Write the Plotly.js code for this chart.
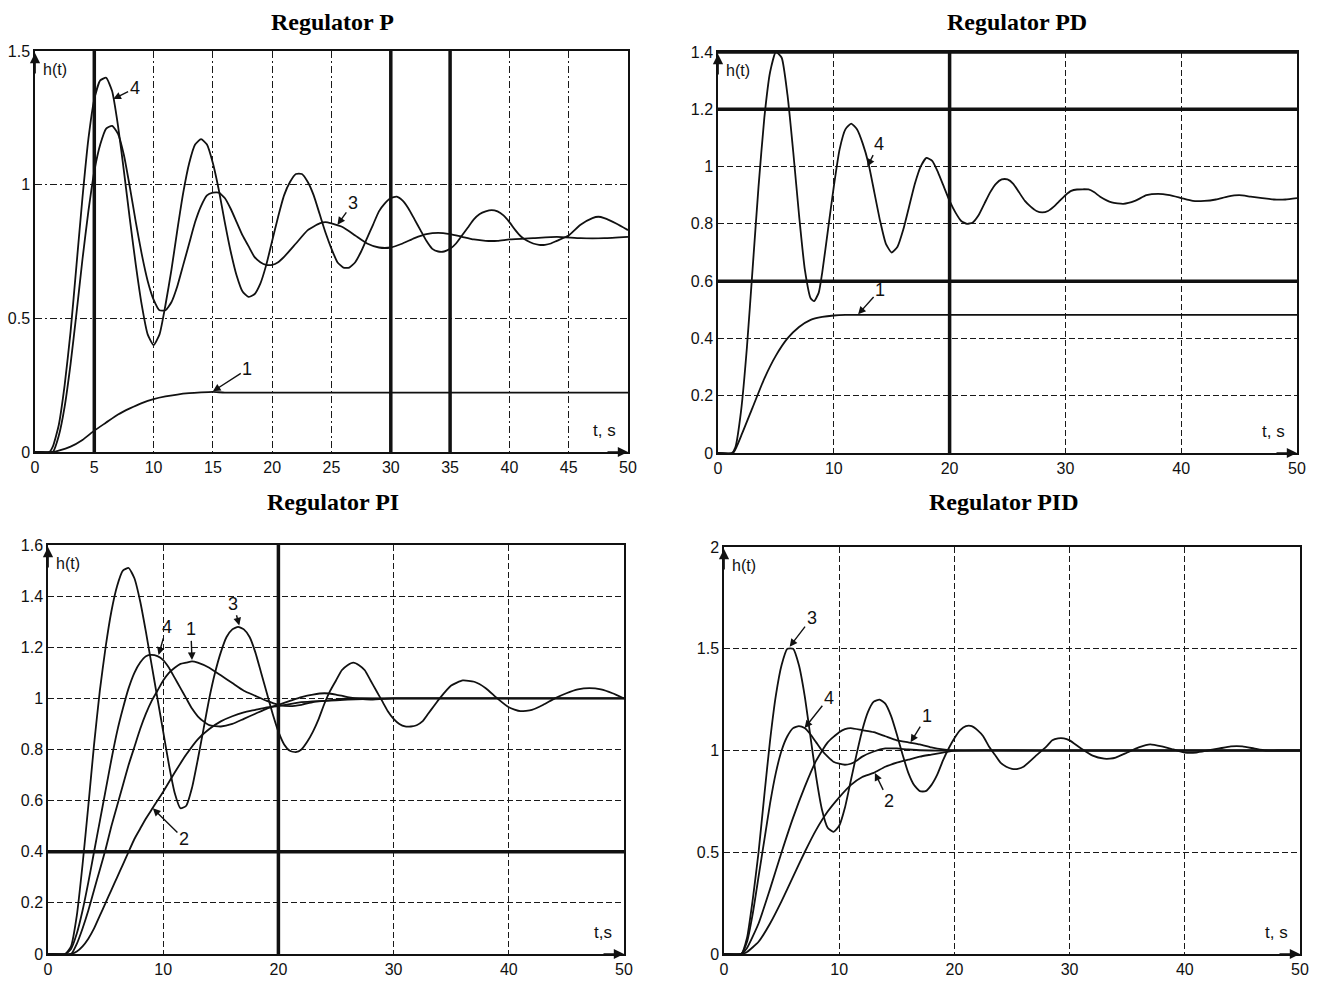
<!DOCTYPE html>
<html>
<head>
<meta charset="utf-8">
<script src="https://cdn.plot.ly/plotly-3.0.1.min.js"></script>
<style>html,body{margin:0;padding:0;background:#fff}#chart{width:1320px;height:981px}</style>
</head>
<body>
<div id="chart"></div>
<script>
// ---------- Regulator P ----------
const tP1 = [0,1.5,2,3,4,5,6,7,8,9,10,11,12,13,14,15,16,20,30,40,50];
const hP1 = [0,0,0.005,0.02,0.045,0.08,0.11,0.14,0.163,0.183,0.198,0.208,0.215,0.22,0.223,0.225,0.222,0.222,0.222,0.222,0.222];
const tP3 = [0,1.5,2,2.5,3,3.5,4,4.5,5,5.5,6,6.5,7,7.5,8,8.5,9,9.5,10,10.5,11,11.5,12,12.5,13,13.5,14,14.5,15,15.5,16,16.5,17,17.5,18,18.5,19,19.5,20,20.5,21,22,23,24,24.5,25,26,27,28,29,30,31,32,33,34,35,36,37,38,39,40,42,44,46,48,50];
const hP3 = [0,0,0.06,0.17,0.33,0.52,0.72,0.9,1.05,1.15,1.21,1.22,1.19,1.11,0.99,0.86,0.74,0.64,0.57,0.53,0.53,0.56,0.62,0.7,0.78,0.86,0.92,0.96,0.97,0.97,0.95,0.91,0.86,0.81,0.77,0.73,0.71,0.70,0.70,0.71,0.73,0.78,0.83,0.855,0.86,0.855,0.84,0.81,0.78,0.765,0.765,0.78,0.80,0.815,0.82,0.815,0.805,0.795,0.79,0.79,0.795,0.80,0.805,0.80,0.80,0.805];
const tP4 = [0,1.2,1.5,2,2.5,3,3.5,4,4.5,5,5.5,6,6.5,7,7.5,8,8.5,9,9.5,10,10.5,11,11.5,12,12.5,13,13.5,14,14.5,15,15.5,16,16.5,17,17.5,18,18.5,19,19.5,20,20.5,21,21.5,22,22.5,23,23.5,24,24.5,25,25.5,26,26.5,27,27.5,28,28.5,29,29.5,30,30.5,31,31.5,32,32.5,33,33.5,34,34.5,35,35.5,36,36.5,37,37.5,38,38.5,39,39.5,40,40.5,41,41.5,42,42.5,43,43.5,44,45,46,47,47.5,48,49,50];
const hP4 = [0,0,0.02,0.1,0.25,0.45,0.7,0.95,1.17,1.32,1.39,1.40,1.35,1.22,1.05,0.87,0.7,0.55,0.44,0.40,0.44,0.55,0.68,0.83,0.97,1.08,1.15,1.17,1.15,1.08,0.98,0.86,0.75,0.66,0.6,0.58,0.59,0.63,0.7,0.79,0.88,0.96,1.01,1.04,1.04,1.01,0.96,0.89,0.82,0.76,0.71,0.69,0.69,0.71,0.75,0.8,0.85,0.9,0.93,0.95,0.955,0.94,0.91,0.87,0.83,0.79,0.76,0.75,0.75,0.76,0.78,0.81,0.84,0.87,0.89,0.9,0.905,0.9,0.885,0.86,0.83,0.805,0.79,0.78,0.775,0.775,0.78,0.79,0.81,0.85,0.875,0.88,0.875,0.855,0.83];

// ---------- Regulator PD ----------
const tD1 = [0,1.3,2,3,4,5,6,7,8,9,10,11,20,30,40,50];
const hD1 = [0,0,0.06,0.16,0.26,0.34,0.4,0.44,0.465,0.475,0.48,0.482,0.482,0.482,0.482,0.482];
const tD4 = [0,1.2,1.5,2,2.5,3,3.5,4,4.5,5,5.5,6,6.5,7,7.5,8,8.3,8.7,9,9.5,10,10.5,11,11.5,12,12.5,13,13.5,14,14.5,15,15.5,16,16.5,17,17.5,18,18.5,19,19.5,20,20.5,21,21.5,22,22.5,23,23.5,24,24.5,25,25.5,26,26.5,27,27.5,28,28.5,29,29.5,30,30.5,31,32,32.5,33,34,35,36,37,38,39,40,41,42,43,44,45,46,47,48,49,50];
const hD4 = [0,0,0.02,0.15,0.37,0.65,0.93,1.17,1.33,1.40,1.38,1.25,1.05,0.83,0.64,0.54,0.53,0.56,0.63,0.78,0.93,1.06,1.13,1.15,1.13,1.08,1.01,0.91,0.81,0.73,0.70,0.72,0.78,0.86,0.94,1.0,1.03,1.02,0.98,0.93,0.88,0.84,0.81,0.80,0.805,0.83,0.87,0.91,0.94,0.955,0.955,0.94,0.91,0.88,0.86,0.845,0.84,0.845,0.86,0.88,0.90,0.915,0.92,0.92,0.91,0.895,0.875,0.87,0.88,0.90,0.905,0.90,0.89,0.88,0.88,0.885,0.895,0.90,0.895,0.89,0.885,0.885,0.89];

// ---------- Regulator PI ----------
const tI1 = [0,2,2.5,3,3.5,4,4.5,5,5.5,6,6.5,7,7.5,8,8.5,9,9.5,10,10.5,11,11.5,12,12.5,13,14,15,16,17,18,19,20,21,22,23,24,26,30,40,50];
const hI1 = [0,0,0.04,0.1,0.17,0.25,0.33,0.41,0.5,0.58,0.66,0.74,0.81,0.88,0.94,0.99,1.03,1.07,1.1,1.12,1.135,1.14,1.145,1.14,1.12,1.09,1.06,1.03,1.01,0.99,0.975,0.97,0.975,0.985,0.99,1.0,1.0,1.0,1.0];
const tI2 = [0,2,2.5,3,3.5,4,4.5,5,5.5,6,6.5,7,7.5,8,8.5,9,9.5,10,11,12,13,14,15,16,17,18,19,20,22,24,26,30,40,50];
const hI2 = [0,0,0.01,0.03,0.06,0.1,0.15,0.2,0.25,0.3,0.35,0.4,0.45,0.49,0.53,0.565,0.6,0.635,0.71,0.78,0.84,0.88,0.91,0.93,0.945,0.955,0.965,0.97,0.985,0.99,0.995,1.0,1.0,1.0];
const tI3 = [0,1.5,2,2.5,3,3.5,4,4.5,5,5.5,6,6.5,7,7.5,8,8.5,9,9.5,10,10.5,11,11.5,12,12.5,13,13.5,14,14.5,15,15.5,16,16.5,17,17.5,18,18.5,19,19.5,20,20.5,21,21.5,22,22.5,23,23.5,24,24.5,25,25.5,26,26.5,27,27.5,28,28.5,29,29.5,30,30.5,31,31.5,32,32.5,33,33.5,34,35,36,37,38,39,40,41,42,43,44,45,46,47,48,49,50];
const hI3 = [0,0,0.03,0.15,0.35,0.58,0.82,1.03,1.2,1.34,1.44,1.5,1.51,1.47,1.38,1.26,1.13,1.0,0.87,0.74,0.63,0.57,0.58,0.65,0.76,0.88,1.0,1.1,1.18,1.24,1.27,1.28,1.27,1.24,1.18,1.1,1.02,0.94,0.87,0.82,0.795,0.79,0.8,0.83,0.87,0.92,0.98,1.03,1.07,1.11,1.13,1.14,1.13,1.11,1.07,1.03,0.99,0.95,0.92,0.9,0.89,0.89,0.895,0.91,0.94,0.97,1.0,1.05,1.07,1.065,1.04,1.0,0.965,0.95,0.955,0.975,1.0,1.02,1.035,1.04,1.035,1.02,1.0];
const tI4 = [0,1.5,2,2.5,3,3.5,4,4.5,5,5.5,6,6.5,7,7.5,8,8.5,9,9.5,10,10.5,11,11.5,12,12.5,13,13.5,14,15,16,17,18,19,20,21,22,23,24,25,26,28,30,35,40,50];
const hI4 = [0,0,0.02,0.08,0.17,0.28,0.4,0.52,0.64,0.76,0.87,0.96,1.04,1.1,1.14,1.165,1.17,1.165,1.15,1.12,1.08,1.04,1.0,0.96,0.93,0.91,0.895,0.89,0.9,0.92,0.94,0.96,0.975,0.99,1.005,1.015,1.02,1.015,1.005,0.995,1.0,1.0,1.0,1.0];

// ---------- Regulator PID ----------
const tQ1 = [0,1.5,2,3,4,5,6,7,8,9,10,10.5,11,12,13,14,15,16,17,18,19,20,30,40,50];
const hQ1 = [0,0,0.03,0.15,0.32,0.5,0.67,0.82,0.95,1.04,1.09,1.105,1.11,1.1,1.09,1.07,1.05,1.04,1.03,1.015,1.005,1.0,1.0,1.0,1.0];
const tQ2 = [0,1.5,2,3,4,5,6,7,8,9,10,11,12,13,14,15,16,17,18,19,20,30,40,50];
const hQ2 = [0,0,0.01,0.06,0.15,0.26,0.38,0.5,0.61,0.7,0.77,0.83,0.87,0.89,0.92,0.94,0.955,0.97,0.98,0.99,1.0,1.0,1.0,1.0];
const tQ3 = [0,1.5,2,2.5,3,3.5,4,4.5,5,5.5,6,6.5,7,7.5,8,8.5,9,9.5,10,10.5,11,11.5,12,12.5,13,13.5,14,14.5,15,15.5,16,16.5,17,17.5,18,18.5,19,19.5,20,20.5,21,21.5,22,22.5,23,23.5,24,24.5,25,25.5,26,27,28,28.5,29,29.5,30,31,32,33,33.5,34,35,36,37,38,39,40,41,42,43,44,45,46,47,48,50];
const hQ3 = [0,0,0.08,0.27,0.5,0.78,1.05,1.27,1.42,1.5,1.5,1.42,1.27,1.07,0.87,0.71,0.62,0.6,0.63,0.72,0.85,0.98,1.1,1.19,1.24,1.25,1.23,1.17,1.08,0.98,0.89,0.83,0.8,0.8,0.83,0.88,0.95,1.01,1.06,1.1,1.12,1.12,1.1,1.07,1.02,0.98,0.94,0.92,0.91,0.91,0.92,0.97,1.02,1.05,1.06,1.06,1.05,1.01,0.975,0.96,0.96,0.965,0.99,1.015,1.03,1.02,1.005,0.99,0.99,1.0,1.01,1.02,1.02,1.01,1.0,1.0,1.0];
const tQ4 = [0,1.5,2,2.5,3,3.5,4,4.5,5,5.5,6,6.5,7,7.5,8,8.5,9,9.5,10,10.5,11,11.5,12,13,14,15,16,18,20,30,40,50];
const hQ4 = [0,0,0.06,0.2,0.38,0.56,0.74,0.89,1.0,1.07,1.11,1.12,1.11,1.08,1.04,1.0,0.97,0.945,0.935,0.93,0.935,0.95,0.97,0.995,1.01,1.01,1.005,1.0,1.0,1.0,1.0,1.0];

// ---------- text / labels ----------
const titles = ['Regulator P', 'Regulator PD', 'Regulator PI', 'Regulator PID'];
const yLabel = 'h(t)';
const xLabels = ['t, s', 't, s', 't,s', 't, s'];
// curve labels: text, label position (t,h), arrow tip (t,h)
const labelsP   = [['4',8.4,1.36,6.6,1.32],['3',26.8,0.93,25.5,0.85],['1',17.9,0.31,15,0.227]];
const labelsPD  = [['4',13.9,1.08,12.9,1.0],['1',14.0,0.57,12.1,0.484]];
const labelsPI  = [['4',10.3,1.28,9.6,1.17],['1',12.4,1.27,12.5,1.15],['3',16.1,1.37,16.6,1.285],['2',11.8,0.45,9.1,0.57]];
const labelsPID = [['3',7.6,1.65,5.7,1.51],['4',9.1,1.26,7.0,1.11],['1',17.6,1.17,16.2,1.04],['2',14.3,0.75,13.1,0.89]];
// heavy (solid) grid lines
const heavyX = [[5,30,35],[20],[20],[]];
const heavyY = [[],[0.6,1.2,1.4],[0.4],[]];
// tick values
const xTicks = [[0,5,10,15,20,25,30,35,40,45,50],[0,10,20,30,40,50],[0,10,20,30,40,50],[0,10,20,30,40,50]];
const yTicks = [[0,0.5,1,1.5],[0,0.2,0.4,0.6,0.8,1,1.2,1.4],[0,0.2,0.4,0.6,0.8,1,1.2,1.4,1.6],[0,0.5,1,1.5,2]];
const yMax = [1.5,1.4,1.6,2];

// ---------- layout geometry (pixels) ----------
const W = 1320, H = 981;
const boxes = [ // left, right, top, bottom
  [35,628,51,452],
  [718,1297,52,453],
  [48,624,545,954],
  [724,1300,547,954]
];
const titlePos = [[332,22],[1017,22],[333,502],[1004,502]];
const gridDash = ['7px,3px,2px,3px','6px,3px','6px,3px','6px,3px'];

const curveSets = [
  [[tP1,hP1],[tP3,hP3],[tP4,hP4]],
  [[tD1,hD1],[tD4,hD4]],
  [[tI1,hI1],[tI2,hI2],[tI3,hI3],[tI4,hI4]],
  [[tQ1,hQ1],[tQ2,hQ2],[tQ3,hQ3],[tQ4,hQ4]]
];
const labelSets = [labelsP, labelsPD, labelsPI, labelsPID];

const ink = '#111';
const tickFont = {family:'Liberation Sans, Arial, sans-serif', size:16, color:ink};
const data = [];
const layout = {
  width:W, height:H, margin:{l:0,r:0,t:0,b:0},
  paper_bgcolor:'#fff', plot_bgcolor:'#fff', showlegend:false,
  annotations:[], shapes:[]
};

for (let i = 0; i < 4; i++) {
  const n = i === 0 ? '' : String(i+1);
  const xa = 'x' + n, ya = 'y' + n;
  const [l, r, t, b] = boxes[i];
  curveSets[i].forEach(([tx, hy]) => {
    data.push({type:'scatter', mode:'lines', x:tx, y:hy, xaxis:xa, yaxis:ya,
      line:{color:ink, width:1.8, shape:'spline', smoothing:0.5}, hoverinfo:'skip'});
  });
  const axBase = {showline:true, linecolor:ink, linewidth:1.7, mirror:true, zeroline:false,
    showgrid:true, gridcolor:'#1a1a1a', gridwidth:1.1, griddash:gridDash[i], ticks:'',
    tickfont:tickFont, fixedrange:true};
  layout['xaxis' + n] = Object.assign({}, axBase, {
    domain:[l/W, r/W], anchor:ya, range:[0,50], tickmode:'array', tickvals:xTicks[i]});
  layout['yaxis' + n] = Object.assign({}, axBase, {
    domain:[(H-b)/H, (H-t)/H], anchor:xa, range:[0,yMax[i]], tickmode:'array', tickvals:yTicks[i]});

  // heavy grid lines
  heavyX[i].forEach(v => layout.shapes.push({type:'line', xref:xa, yref:ya+' domain', x0:v, x1:v, y0:0, y1:1,
    line:{color:ink, width:3.5}, layer:'above'}));
  heavyY[i].forEach(v => layout.shapes.push({type:'line', xref:xa+' domain', yref:ya, x0:0, x1:1, y0:v, y1:v,
    line:{color:ink, width:3.5}, layer:'above'}));

  // title
  layout.annotations.push({xref:'paper', yref:'paper', x:titlePos[i][0]/W, y:1-titlePos[i][1]/H,
    xanchor:'center', yanchor:'middle', showarrow:false, text:'<b>'+titles[i]+'</b>',
    font:{family:'Liberation Serif, Times New Roman, serif', size:24, color:'#000'}});
  // axis arrows
  layout.annotations.push({xref:xa+' domain', yref:ya+' domain', x:0, y:0.995, ax:0, ay:22,
    showarrow:true, arrowhead:2, arrowsize:1.2, arrowwidth:1.7, arrowcolor:ink, text:''});
  layout.annotations.push({xref:xa+' domain', yref:ya+' domain', x:1, y:0, ax:-22, ay:0,
    showarrow:true, arrowhead:2, arrowsize:1.2, arrowwidth:1.7, arrowcolor:ink, text:''});
  // axis name labels
  layout.annotations.push({xref:xa+' domain', yref:ya+' domain', x:0, y:1, xanchor:'left', yanchor:'top',
    xshift:6, yshift:-8, showarrow:false, text:yLabel, font:{family:'Liberation Sans, Arial, sans-serif', size:16, color:ink}});
  layout.annotations.push({xref:xa+' domain', yref:ya+' domain', x:1, y:0, xanchor:'right', yanchor:'bottom',
    xshift:-10, yshift:10, showarrow:false, text:xLabels[i], font:{family:'Liberation Sans, Arial, sans-serif', size:17, color:ink}});
  // curve labels
  labelSets[i].forEach(([txt, lx, ly, px, py]) => {
    layout.annotations.push({xref:xa, yref:ya, axref:xa, ayref:ya, x:px, y:py, ax:lx, ay:ly,
      text:txt, showarrow:true, arrowhead:2, arrowsize:1.1, arrowwidth:1.4, arrowcolor:ink,
      font:{family:'Liberation Sans, Arial, sans-serif', size:18, color:ink}});
  });
}

Plotly.newPlot('chart', data, layout, {staticPlot:true});
</script>
</body>
</html>
